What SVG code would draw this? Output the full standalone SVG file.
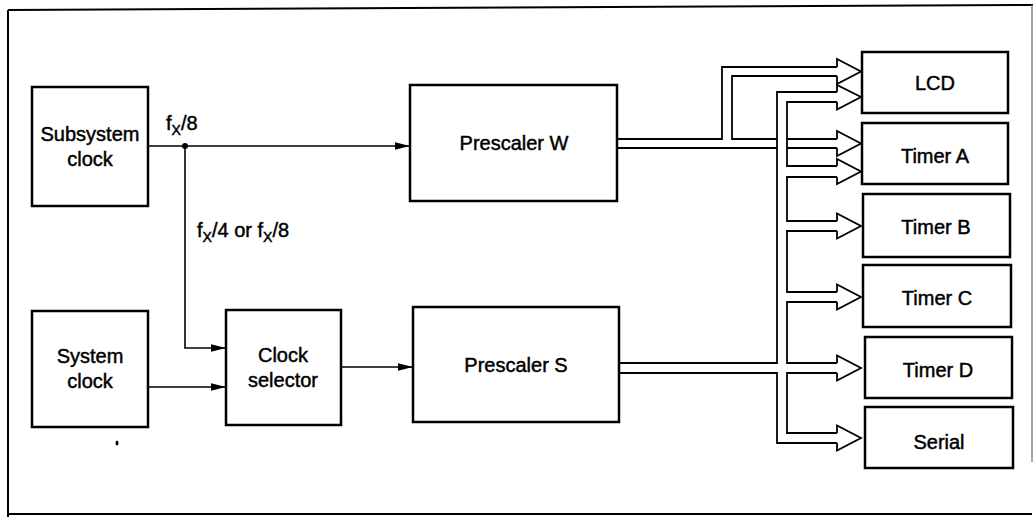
<svg xmlns="http://www.w3.org/2000/svg" width="1035" height="517" viewBox="0 0 1035 517">
<defs>
<marker id="ah" markerWidth="16" markerHeight="10" refX="15" refY="5" orient="auto" markerUnits="userSpaceOnUse">
<path d="M0,1.3 L15,5 L0,8.7 Z" fill="#000"/>
</marker>
<style>
.box{fill:#fff;stroke:#000;stroke-width:2.5}
.t{font-family:"Liberation Sans",Arial,sans-serif;font-size:20px;fill:#000;stroke:#000;stroke-width:0.45;text-anchor:middle}
.l{font-family:"Liberation Sans",Arial,sans-serif;font-size:20px;fill:#000;stroke:#000;stroke-width:0.45}
.sub{font-size:14px}
.w{fill:none;stroke:#000;stroke-width:1.6}
.bus{fill:none;stroke:#000;stroke-width:1.8;stroke-linejoin:miter}
</style>
</defs>
<rect width="1035" height="517" fill="#fff"/>
<g id="frame" fill="none" stroke="#000" stroke-width="2">
<line x1="8" y1="10" x2="1033" y2="5"/>
<line x1="8" y1="10" x2="8" y2="517"/>
<line x1="8" y1="514" x2="1032" y2="514"/>
<line x1="1032" y1="5" x2="1032" y2="462" stroke="#888" stroke-width="1.5"/>
</g>
<g id="connectors">
<line class="w" x1="148" y1="146" x2="410" y2="146" marker-end="url(#ah)"/>
<circle cx="185" cy="146" r="3" fill="#000"/>
<polyline class="w" points="185,146 185,348 226,348" marker-end="url(#ah)"/>
<line class="w" x1="148" y1="387" x2="226" y2="387" marker-end="url(#ah)"/>
<line class="w" x1="341" y1="367" x2="413" y2="367" marker-end="url(#ah)"/>
<polyline class="bus" points="617,139 722,139 722,67 837,67"/>
<polyline class="bus" points="837,76 732,76 732,139 777,139"/>
<line class="bus" x1="617" y1="148" x2="777" y2="148"/>
<line class="bus" x1="787" y1="139" x2="837" y2="139"/>
<line class="bus" x1="787" y1="148" x2="837" y2="148"/>
<polyline class="bus" points="619,363 777,363 777,92 837,92"/>
<polyline class="bus" points="619,373 777,373 777,443 837,443"/>
<polyline class="bus" points="837,102 787,102 787,166 837,166"/>
<polyline class="bus" points="837,177 787,177 787,221 837,221"/>
<polyline class="bus" points="837,231 787,231 787,292 837,292"/>
<polyline class="bus" points="837,302 787,302 787,363 837,363"/>
<polyline class="bus" points="837,373 787,373 787,433 837,433"/>
<polyline class="bus" points="837,67 837,59 861,71.5 837,84 837,76"/>
<polyline class="bus" points="837,92 837,85 861,97 837,109.5 837,102"/>
<polyline class="bus" points="837,139 837,131 861,143.5 837,156 837,148"/>
<polyline class="bus" points="837,166 837,159 861,171.5 837,184 837,177"/>
<polyline class="bus" points="837,221 837,213.5 861,226 837,238.5 837,231"/>
<polyline class="bus" points="837,292 837,284.5 861,297 837,309.5 837,302"/>
<polyline class="bus" points="837,363 837,355.5 861,368 837,380.5 837,373"/>
<polyline class="bus" points="837,433 837,425.5 861,438 837,450.5 837,443"/>
</g>
<g id="subsystem-clock">
<rect class="box" x="32" y="87" width="116" height="119"/>
<text class="t" x="90" y="141">Subsystem</text>
<text class="t" x="90" y="166">clock</text>
</g>
<g id="system-clock">
<rect class="box" x="32" y="311" width="116" height="116"/>
<text class="t" x="90" y="363">System</text>
<text class="t" x="90" y="388">clock</text>
</g>
<g id="clock-selector">
<rect class="box" x="226" y="310" width="115" height="115"/>
<text class="t" x="283" y="362">Clock</text>
<text class="t" x="283" y="387">selector</text>
</g>
<g id="prescaler-w">
<rect class="box" x="410" y="85" width="207" height="116"/>
<text class="t" x="514" y="150">Prescaler W</text>
</g>
<g id="prescaler-s">
<rect class="box" x="413" y="307" width="206" height="115"/>
<text class="t" x="516" y="372">Prescaler S</text>
</g>
<g id="lcd">
<rect class="box" x="862" y="52" width="146" height="61"/>
<text class="t" x="935" y="90">LCD</text>
</g>
<g id="timer-a">
<rect class="box" x="862" y="123" width="146" height="61"/>
<text class="t" x="935" y="163">Timer A</text>
</g>
<g id="timer-b">
<rect class="box" x="863" y="194" width="147" height="63"/>
<text class="t" x="936" y="234">Timer B</text>
</g>
<g id="timer-c">
<rect class="box" x="863" y="265" width="148" height="62"/>
<text class="t" x="937" y="305">Timer C</text>
</g>
<g id="timer-d">
<rect class="box" x="865" y="337" width="147" height="61"/>
<text class="t" x="938" y="377">Timer D</text>
</g>
<g id="serial">
<rect class="box" x="865" y="407" width="148" height="61"/>
<text class="t" x="939" y="449">Serial</text>
</g>
<g id="labels">
<text class="l" x="166" y="130">f<tspan class="sub" dy="5">X</tspan><tspan dy="-5">/8</tspan></text>
<text class="l" x="197" y="237">f<tspan class="sub" dy="5">X</tspan><tspan dy="-5">/4 or f</tspan><tspan class="sub" dy="5">X</tspan><tspan dy="-5">/8</tspan></text>
</g>
<ellipse cx="117" cy="443" rx="1.5" ry="2.5" fill="#000"/>
</svg>
